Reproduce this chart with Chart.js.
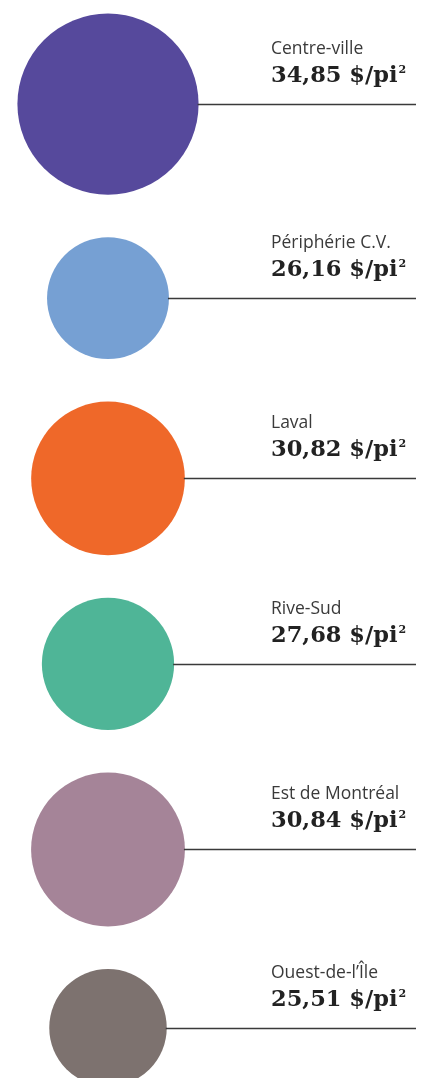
<!DOCTYPE html>
<html>
<head>
<meta charset="utf-8">
<script src="https://cdn.jsdelivr.net/npm/chart.js@4"></script>
<style>
  html, body { margin: 0; padding: 0; background: #fff; }
  #wrap { width: 422px; height: 1078px; }
</style>
</head>
<body>
<div id="wrap"><canvas id="loyerChart"></canvas></div>
<script>
// Données du graphique
const secteurs = ['Centre-ville', 'Périphérie C.V.', 'Laval', 'Rive-Sud', 'Est de Montréal', 'Ouest-de-l\u2019Île'];
const loyers = [34.85, 26.16, 30.82, 27.68, 30.84, 25.51];
const couleurs = ['#56499c', '#76a0d3', '#ef6829', '#4fb597', '#a58498', '#7d726f'];

// Rayon des bulles en fonction du loyer (échelle linéaire)
function rayon(v) {
    return 71.7 + 3.41 * (v - 29.31);
}

// Position verticale : bulles empilées avec un espace constant
const ESPACE = 42.5;
const positions = [];
let cumul = 13.5;
loyers.forEach((v, i) => {
    const r = rayon(v);
    positions.push(cumul + r);
    cumul += 2 * r + ESPACE;
});

function formatLoyer(v) {
    return v.toFixed(2).replace('.', ',') + ' $/pi';
}

// Plugin pour les lignes et étiquettes
const etiquettes = {
    id: 'etiquettes',
    afterDatasetsDraw(chart) {
        const ctx = chart.ctx;
        const meta = chart.getDatasetMeta(0);
        ctx.save();
        meta.data.forEach((pt, i) => {
            const r = pt.options.radius;
            const y = Math.round(pt.y) + 0.5;
            ctx.strokeStyle = '#3a3a3a';
            ctx.lineWidth = 1.4;
            ctx.beginPath();
            ctx.moveTo(pt.x + r - 1, y);
            ctx.lineTo(416, y);
            ctx.stroke();

            ctx.fillStyle = '#3a3a3a';
            ctx.textAlign = 'left';
            ctx.textBaseline = 'alphabetic';
            ctx.font = '17.5px "Open Sans"';
            ctx.fillText(secteurs[i], 271, y - 51);
            // valeur + exposant
            ctx.fillStyle = '#222';
            ctx.font = 'bold 22.5px "DejaVu Serif"';
            const txt = formatLoyer(loyers[i]);
            ctx.fillText(txt, 271, y - 23);
            const w = ctx.measureText(txt).width;
            ctx.font = 'bold 11px "DejaVu Serif"';
            ctx.fillText('2', 271 + w + 1, y - 32);
        });
        ctx.restore();
    }
};

const ctx = document.getElementById('loyerChart').getContext('2d');
new Chart(ctx, {
    type: 'bubble',
    data: {
        datasets: [{
            data: loyers.map((v, i) => ({ x: 0, y: positions[i], r: rayon(v) })),
            backgroundColor: couleurs,
            borderWidth: 0,
            hoverRadius: 0
        }]
    },
    options: {
        responsive: true,
        maintainAspectRatio: false,
        animation: false,
        events: [],
        layout: { padding: 0, autoPadding: false },
        clip: false,
        scales: {
            x: { type: 'linear', display: false, min: -108, max: 314 },
            y: { type: 'linear', display: false, min: 0, max: 1078, reverse: true }
        },
        plugins: {
            legend: { display: false },
            tooltip: { enabled: false }
        }
    },
    plugins: [etiquettes]
});
</script>
</body>
</html>
